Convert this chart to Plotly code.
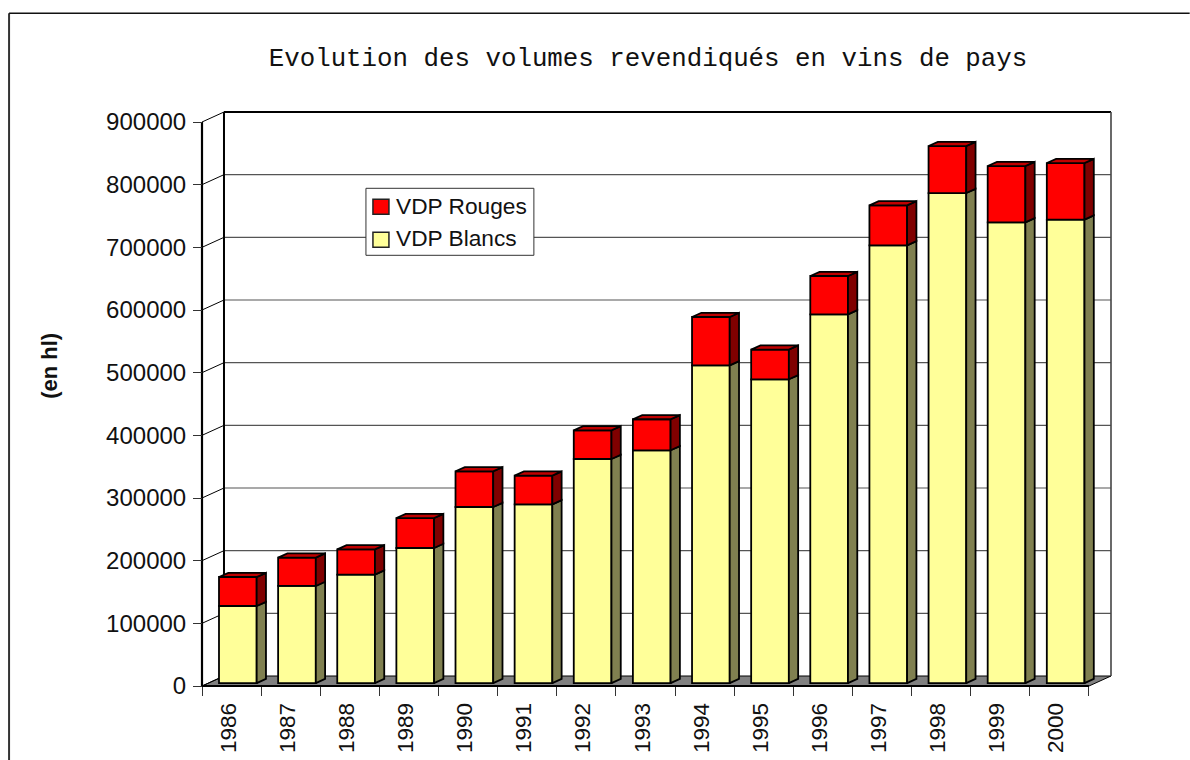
import plotly.graph_objects as go

years = ["1986","1987","1988","1989","1990","1991","1992","1993","1994","1995","1996","1997","1998","1999","2000"]
blancs = [123000,155000,173100,215600,281000,285300,357600,371500,507100,484800,588500,698600,782000,735300,739600]
rouges = [46300,45300,40400,47800,57000,45800,45800,49500,77100,47400,61100,63800,75000,89800,90300]
y_ticks = [0,100000,200000,300000,400000,500000,600000,700000,800000,900000]
legend_names = ["VDP Rouges", "VDP Blancs"]

W, H = 1190, 760
PX_X = 59.15            # pixels per category
PX_Y = 564 / 900000     # pixels per hl
X0, Y0 = 202.0, 685.7   # front-plane origin
PAD = 4.0
X_END = 1111.3
Y_TOP = 111.7

wall_dx, wall_dy = 22.0 / PX_X, 10.0 / PX_Y       # chart depth
bar_dx, bar_dy = 9.3 / PX_X, 4.2 / PX_Y           # bar depth
off_x, off_y = 0.106, 2.9 / PX_Y                  # bar offset from the front plane
bar_w = 37.7 / PX_X
n = len(years)

x_max = (X_END - X0) / PX_X
y_max = (Y0 - Y_TOP) / PX_Y
xr = [-PAD / PX_X, x_max + PAD / PX_X]
yr = [-PAD / PX_Y, y_max + PAD / PX_Y]
plot_w = X_END - X0 + 2 * PAD
plot_h = Y0 - Y_TOP + 2 * PAD
l, t = X0 - PAD, Y_TOP - PAD
r, b = W - (X_END + PAD), H - (Y0 + PAD)


def px(x):
    return (x - l) / plot_w


def py(y):
    return (H - b - y) / plot_h


centers = [i + 0.5 + off_x for i in range(n)]
base1 = [off_y] * n
base2 = [off_y + v for v in blancs]
tops = [off_y + a + c for a, c in zip(blancs, rouges)]


def side(lo, hi):
    xs, ys = [], []
    for c, a, z in zip(centers, lo, hi):
        e = c + bar_w / 2
        xs += [e, e + bar_dx, e + bar_dx, e, e, None]
        ys += [a, a + bar_dy, z + bar_dy, z, a, None]
    return xs, ys


def top(hi):
    xs, ys = [], []
    for c, z in zip(centers, hi):
        a, e = c - bar_w / 2, c + bar_w / 2
        xs += [a, a + bar_dx, e + bar_dx, e, a, None]
        ys += [z, z + bar_dy, z + bar_dy, z, z, None]
    return xs, ys


OUT = dict(color="#000000", width=1.8)
fig = go.Figure()
fig.add_bar(x=centers, y=blancs, base=base1, width=bar_w, name=legend_names[1],
            marker=dict(color="#ffff99", line=OUT), showlegend=False)
fig.add_bar(x=centers, y=rouges, base=base2, width=bar_w, name=legend_names[0],
            marker=dict(color="#ff0000", line=OUT), showlegend=False)
for (xs, ys), col in [(side(base1, base2), "#808050"), (side(base2, tops), "#800000"), (top(tops), "#c00000")]:
    fig.add_scatter(x=xs, y=ys, mode="lines", fill="toself", fillcolor=col,
                    line=OUT, showlegend=False, hoverinfo="skip")

shapes = []


def seg(x0, y0, x1, y1, color="#000000", width=1.0, layer="below", refs="data"):
    xref, yref = ("x", "y") if refs == "data" else ("paper", "paper")
    shapes.append(dict(type="line", xref=xref, yref=yref, x0=x0, y0=y0, x1=x1, y1=y1,
                       layer=layer, line=dict(color=color, width=width)))


def box(x0, y0, x1, y1, fill, line="#333333", width=1.0):
    shapes.append(dict(type="rect", xref="paper", yref="paper", layer="above",
                       x0=px(x0), x1=px(x1), y0=py(y0), y1=py(y1), fillcolor=fill,
                       line=dict(color=line, width=width)))


# floor
shapes.append(dict(type="path", xref="x", yref="y", layer="below",
                   path=f"M 0,0 L {wall_dx},{wall_dy} L {x_max},{wall_dy} L {x_max - wall_dx},0 Z",
                   fillcolor="#808080", line=dict(color="#000000", width=1)))
# back wall grid and side-wall diagonals
for v in y_ticks:
    if v and v != y_ticks[-1]:
        seg(wall_dx, v + wall_dy, x_max, v + wall_dy, color="#555555", width=1.2)
    seg(0, v, wall_dx, v + wall_dy, width=1)
seg(wall_dx, wall_dy, wall_dx, y_ticks[-1] + wall_dy, width=2)
seg(wall_dx, y_ticks[-1] + wall_dy, x_max, y_ticks[-1] + wall_dy, width=2)
seg(x_max, wall_dy, x_max, y_ticks[-1] + wall_dy, color="#444444", width=1.6)
seg(0, 0, 0, y_ticks[-1], width=2.2)
seg(0, 0, n, 0, width=2.2)
# outer frame, left and top only
seg(px(9), py(13), px(9), py(H + 10), color="#333333", width=2, layer="above", refs="paper")
seg(px(9), py(13), px(W), py(13), color="#111111", width=1.6, layer="above", refs="paper")
# legend box and swatches
box(366, 188, 534, 255, "#ffffff")
box(373, 199, 389, 214, "#ff0000", line="#222222", width=1.5)
box(373, 232, 389, 247, "#ffff99", line="#222222", width=1.5)

FONT = "Liberation Sans"
INK = "#111111"
fig.update_layout(
    width=W, height=H + 16, autosize=False, showlegend=False,
    margin=dict(l=l, r=r, t=t, b=b + 16, pad=0),
    paper_bgcolor="#ffffff", plot_bgcolor="#ffffff",
    barmode="overlay", shapes=shapes, hovermode=False,
    title=dict(text="Evolution des volumes revendiqués en vins de pays",
               font=dict(family="Liberation Mono", size=25.8, color=INK),
               x=648 / W, xanchor="center", xref="container",
               y=1 - 57 / (H + 16), yanchor="middle", yref="container"),
    xaxis=dict(range=xr, showgrid=False, zeroline=False, showline=False,
               tickmode="array", tickvals=[i + 0.445 for i in range(n)], ticktext=years,
               tickangle=-90, ticks="outside", ticklen=7, tickcolor="rgba(0,0,0,0)",
               tickfont=dict(family=FONT, size=22.5, color=INK),
               anchor="free", position=PAD / plot_h,
               minor=dict(tickmode="array", tickvals=list(range(n + 1)), ticks="outside",
                          ticklen=9, tickcolor="#333333", tickwidth=1, showgrid=False)),
    yaxis=dict(range=yr, showgrid=False, zeroline=False, showline=False,
               tickmode="array", tickvals=y_ticks, ticktext=[str(v) for v in y_ticks],
               ticks="outside", ticklen=9, tickcolor="#333333", tickwidth=1, ticklabelstandoff=2,
               tickfont=dict(family=FONT, size=24, color=INK),
               anchor="free", position=PAD / plot_w),
    annotations=[
        dict(text="<b>(en hl)</b>", xref="paper", yref="paper", x=px(50), y=py(365.5),
             showarrow=False, textangle=-90, xanchor="center", yanchor="middle",
             font=dict(family=FONT, size=22, color=INK)),
        dict(text=legend_names[0], xref="paper", yref="paper", x=px(395), y=py(206),
             showarrow=False, xanchor="left", yanchor="middle", borderpad=0,
             font=dict(family=FONT, size=22.7, color=INK)),
        dict(text=legend_names[1], xref="paper", yref="paper", x=px(395), y=py(238),
             showarrow=False, xanchor="left", yanchor="middle", borderpad=0,
             font=dict(family=FONT, size=22.7, color=INK)),
    ],
)

fig.write_html("out.html", config={"displayModeBar": False, "responsive": False},
               post_script="document.documentElement.style.overflow='hidden';document.body.style.margin='0';document.body.style.overflow='hidden';")
